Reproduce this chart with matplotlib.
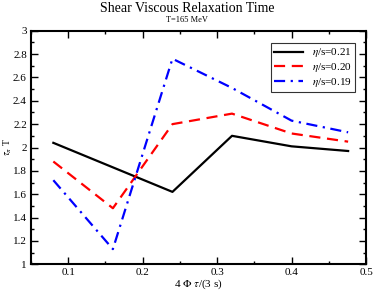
import matplotlib
matplotlib.use("Agg")
import matplotlib.pyplot as plt
from matplotlib.ticker import MultipleLocator

plt.rcParams["font.family"] = ["Liberation Serif", "DejaVu Serif"]
plt.rcParams["mathtext.fontset"] = "stix"

# x values: 4 Phi tau / (3 s)
x = [0.08, 0.16, 0.24, 0.32, 0.40, 0.476]
eta021 = [2.04, 1.83, 1.62, 2.10, 2.01, 1.97]
eta020 = [1.88, 1.48, 2.20, 2.29, 2.12, 2.05]
eta019 = [1.72, 1.13, 2.76, 2.51, 2.23, 2.13]

fig = plt.figure(figsize=(3.74, 2.9), dpi=100)
ax = fig.add_axes([31 / 374, 1 - 264.3 / 290, 335 / 374, 233.6 / 290])

ax.plot(x, eta021, color="black", lw=1.6, label=r"$\eta$/s=0.21")
ax.plot(x, eta020, color="red", lw=1.6, dashes=(5, 3), label=r"$\eta$/s=0.20")
ax.plot(x, eta019, color="blue", lw=1.6, dashes=(5, 2.5, 1, 2.5), label=r"$\eta$/s=0.19")

ax.set_xlim(0.05, 0.5)
ax.set_ylim(1, 3)
ax.xaxis.set_major_locator(MultipleLocator(0.1))
ax.xaxis.set_minor_locator(MultipleLocator(0.05))
ax.yaxis.set_major_locator(MultipleLocator(0.2))
ax.yaxis.set_minor_locator(MultipleLocator(0.1))
ax.xaxis.set_major_formatter(plt.FuncFormatter(lambda v, p: f"{v:g}"))
ax.yaxis.set_major_formatter(plt.FuncFormatter(lambda v, p: f"{v:g}"))
ax.tick_params(which="both", direction="in", top=True, right=True, labelsize=8, pad=3)
ax.tick_params(which="major", length=5, width=1)
ax.tick_params(which="minor", length=2.5, width=1)
for s in ax.spines.values():
    s.set_linewidth(1.5)

ax.set_xlabel(r"4 $\Phi$ $\tau$/(3 s)", fontsize=8, labelpad=0)
fig.text(8 / 374, 1 - 147 / 290, r"$\tau_\pi$ T", rotation=90, ha="center", va="center", fontsize=7)

fig.text(0.5, 1 - 9 / 290, "Shear Viscous Relaxation Time", ha="center", va="center", fontsize=10)
fig.text(0.5, 1 - 20 / 290, "T=165 MeV", ha="center", va="center", fontsize=6)

leg = ax.legend(loc="upper right", fontsize=8, frameon=True, fancybox=False,
                edgecolor="black", handlelength=2.6, borderpad=0.3,
                labelspacing=0.15, borderaxespad=0, bbox_to_anchor=(0.967, 0.947))
leg.get_frame().set_linewidth(0.8)

fig.savefig("out.png", dpi=100)
